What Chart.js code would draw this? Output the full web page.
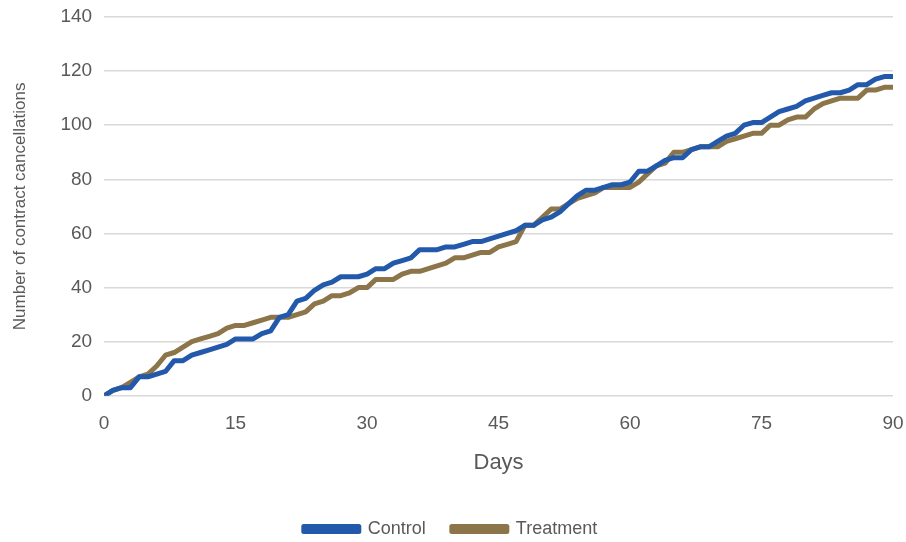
<!DOCTYPE html>
<html>
<head>
<meta charset="utf-8">
<script src="https://cdn.jsdelivr.net/npm/chart.js@4"></script>
<style>
  html, body { margin: 0; padding: 0; background: #fff; }
  #wrap { width: 906px; height: 542px; }
</style>
</head>
<body>
<div id="wrap"><canvas id="chart"></canvas></div>
<script>
// days 0..90
const days = Array.from({ length: 91 }, (_, i) => i);

const controlValues = [
  0, 2, 3, 3, 7, 7, 8, 9, 13, 13,
  15, 16, 17, 18, 19, 21, 21, 21, 23, 24,
  29, 30, 35, 36, 39, 41, 42, 44, 44, 44,
  45, 47, 47, 49, 50, 51, 54, 54, 54, 55,
  55, 56, 57, 57, 58, 59, 60, 61, 63, 63,
  65, 66, 68, 71, 74, 76, 76, 77, 78, 78,
  79, 83, 83, 85, 87, 88, 88, 91, 92, 92,
  94, 96, 97, 100, 101, 101, 103, 105, 106, 107,
  109, 110, 111, 112, 112, 113, 115, 115, 117, 118,
  118
];

const treatmentValues = [
  0, 2, 3, 5, 7, 8, 11, 15, 16, 18,
  20, 21, 22, 23, 25, 26, 26, 27, 28, 29,
  29, 29, 30, 31, 34, 35, 37, 37, 38, 40,
  40, 43, 43, 43, 45, 46, 46, 47, 48, 49,
  51, 51, 52, 53, 53, 55, 56, 57, 63, 63,
  66, 69, 69, 71, 73, 74, 75, 77, 77, 77,
  77, 79, 82, 85, 86, 90, 90, 91, 92, 92,
  92, 94, 95, 96, 97, 97, 100, 100, 102, 103,
  103, 106, 108, 109, 110, 110, 110, 113, 113, 114,
  114
];

const xTicks = [0, 15, 30, 45, 60, 75, 90];
const yTicks = [0, 20, 40, 60, 80, 100, 120, 140];

const BLUE = '#2359ab';
const BROWN = '#8c7549';
const TEXT = '#595959';
const FONT = 'Liberation Sans';

function toPoints(values) {
  return values.map((v, i) => ({ x: days[i], y: v }));
}

new Chart(document.getElementById('chart'), {
  type: 'line',
  data: {
    datasets: [
      {
        label: 'Control',
        data: toPoints(controlValues),
        borderColor: BLUE,
        backgroundColor: BLUE,
        borderWidth: 5,
        pointRadius: 0,
        tension: 0,
        borderJoinStyle: 'round',
        borderCapStyle: 'round'
      },
      {
        label: 'Treatment',
        data: toPoints(treatmentValues),
        borderColor: BROWN,
        backgroundColor: BROWN,
        borderWidth: 5,
        pointRadius: 0,
        tension: 0,
        borderJoinStyle: 'round',
        borderCapStyle: 'round'
      }
    ]
  },
  options: {
    responsive: true,
    maintainAspectRatio: false,
    animation: false,
    layout: { padding: { left: 8, right: 13, top: 17, bottom: -6 } },
    plugins: {
      legend: {
        position: 'bottom',
        labels: {
          color: TEXT,
          font: { family: FONT, size: 18 },
          boxWidth: 55,
          boxHeight: 5,
          padding: 26
        }
      },
      tooltip: { enabled: false }
    },
    scales: {
      x: {
        type: 'linear',
        min: 0,
        max: 90,
        afterBuildTicks: axis => { axis.ticks = xTicks.map(v => ({ value: v })); },
        afterFit: axis => { axis.paddingRight = 0; axis.paddingLeft = 0; },
        grid: { display: false, drawTicks: false },
        border: { display: false },
        ticks: {
          color: TEXT,
          font: { family: FONT, size: 19 },
          padding: 17,
          maxRotation: 0
        },
        title: {
          display: true,
          text: 'Days',
          color: TEXT,
          font: { family: FONT, size: 22 },
          padding: { top: -3, bottom: 18 }
        }
      },
      y: {
        min: 0,
        max: 140,
        afterBuildTicks: axis => { axis.ticks = yTicks.map(v => ({ value: v })); },
        afterFit: axis => { axis.paddingTop = 0; axis.paddingBottom = 0; },
        grid: { color: '#d9d9d9', lineWidth: 1.5, drawTicks: false },
        border: { display: false },
        ticks: {
          color: TEXT,
          font: { family: FONT, size: 19 },
          padding: 12
        },
        title: {
          display: true,
          text: 'Number of contract cancellations',
          color: TEXT,
          font: { family: FONT, size: 17 },
          padding: { top: 2, bottom: 18 }
        }
      }
    }
  }
});
</script>
</body>
</html>
